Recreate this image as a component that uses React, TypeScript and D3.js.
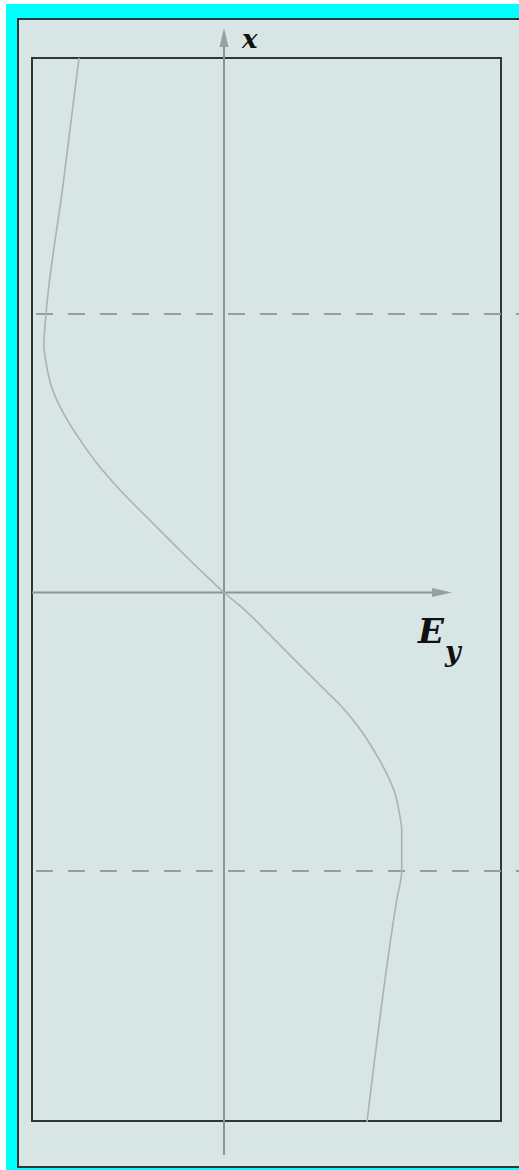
import React from "react";
import * as d3 from "d3";

const W = 519;
const H = 1170;

// Transverse field profile across a slab guide: position x (vertical axis)
// and the field amplitude E_y (horizontal axis). Slab edges sit at x = ±1.
const positions = [
  1.92, 1.46, 1.004, 0.889, 0.81, 0.738, 0.645, 0.548, 0.465, 0.368, 0.271,
  0.163, 0.07, 0, -0.063, -0.146, -0.231, -0.35, -0.41, -0.482, -0.554,
  -0.638, -0.721, -0.805, -0.853, -0.996, -1.104, -1.901,
];
const fieldValues = [
  -0.81, -0.9, -0.994, -1.006, -0.99, -0.963, -0.898, -0.804, -0.711, -0.581,
  -0.432, -0.264, -0.116, 0, 0.117, 0.247, 0.378, 0.564, 0.658, 0.75, 0.825,
  0.899, 0.955, 0.983, 0.993, 0.993, 0.965, 0.799,
];
const boundaries = [1, -1];

const axisLabelX = "x";
const axisLabelE = "E";
const axisLabelSub = "y";

export default function App() {
  const xPos = d3.scaleLinear().domain([-1, 1]).range([871, 314]);
  const eScale = d3.scaleLinear().domain([-1, 1]).range([45, 403]);

  const ox = eScale(0);
  const oy = xPos(0);

  const pts: [number, number][] = positions.map((p, i) => [p, fieldValues[i]]);
  const line = d3
    .line<[number, number]>()
    .x((d) => eScale(d[1]))
    .y((d) => xPos(d[0]))
    .curve(d3.curveMonotoneY);

  const axisColor = "#8e9494";
  const frameColor = "#2f3636";
  const labelFont = "'DejaVu Serif', 'Liberation Serif', serif";

  return (
    <div style={{ position: "absolute", left: 0, top: 0, width: W, height: H }}>
      <svg width={W} height={H} style={{ display: "block" }}>
        <rect x={0} y={0} width={W} height={H} fill="#ffffff" />
        <rect x={6} y={4} width={W} height={H} fill="#00ffff" />
        <rect
          x={18}
          y={19}
          width={W + 20}
          height={1148}
          fill="#d8e5e5"
          stroke={frameColor}
          strokeWidth={2}
        />
        <rect
          x={32}
          y={58}
          width={469}
          height={1063}
          fill="none"
          stroke={frameColor}
          strokeWidth={2}
        />

        {boundaries.map((b) => (
          <line
            key={b}
            x1={36}
            x2={W}
            y1={xPos(b)}
            y2={xPos(b)}
            stroke="#979c9c"
            strokeWidth={2}
            strokeDasharray="17 15"
          />
        ))}

        {/* vertical x axis */}
        <line x1={ox} x2={ox} y1={44} y2={1155} stroke={axisColor} strokeWidth={2} />
        <path
          d={`M${ox},28 L${ox - 4.5},47 L${ox + 4.5},47 Z`}
          fill="#999f9f"
        />
        {/* horizontal E_y axis */}
        <line x1={32} x2={436} y1={oy} y2={oy} stroke={axisColor} strokeWidth={2} />
        <path
          d={`M452,${oy} L432,${oy - 4.5} L432,${oy + 4.5} Z`}
          fill="#999f9f"
        />

        <path d={line(pts) ?? ""} fill="none" stroke="#acb1b1" strokeWidth={1.6} />

        <text
          x={242}
          y={48}
          fontFamily={labelFont}
          fontStyle="italic"
          fontWeight="bold"
          fontSize={26}
          fill="#111"
        >
          {axisLabelX}
        </text>
        <text
          x={418}
          y={643}
          fontFamily={labelFont}
          fontStyle="italic"
          fontWeight="bold"
          fontSize={34}
          fill="#111"
        >
          {axisLabelE}
        </text>
        <text
          x={445}
          y={661}
          fontFamily={labelFont}
          fontStyle="italic"
          fontWeight="bold"
          fontSize={27}
          fill="#111"
        >
          {axisLabelSub}
        </text>
      </svg>
    </div>
  );
}
